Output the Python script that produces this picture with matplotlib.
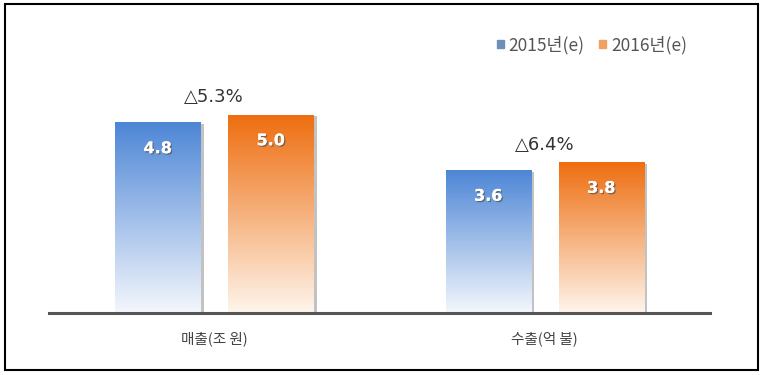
import numpy as np
import matplotlib.pyplot as plt
from matplotlib.colors import LinearSegmentedColormap
from matplotlib.patches import Rectangle
import matplotlib.patheffects as pe

plt.rcParams['font.family'] = ['Noto Sans CJK KR', 'DejaVu Sans']

categories = ['매출(조 원)', '수출(억 불)']
series_names = ['2015년(e)', '2016년(e)']
values_2015 = [4.8, 3.6]
values_2016 = [5.0, 3.8]
growth = ['△5.3%', '△6.4%']

top_colors = ['#4D86D6', '#EE6E10']
bottom_colors = ['#F4F7FC', '#FEF5EC']

fig = plt.figure(figsize=(7.62, 3.75), dpi=100)
ax = fig.add_axes([0.0643, 0.1653, 0.8675, 0.6336])

x = np.arange(len(categories))
width = 0.258
offset = 0.171
grad = np.linspace(1, 0, 256).reshape(-1, 1)

for i, vals in enumerate([values_2015, values_2016]):
    cmap = LinearSegmentedColormap.from_list('g%d' % i, [bottom_colors[i], top_colors[i]])
    pos = x + (i * 2 - 1) * offset
    bars = ax.bar(pos, vals, width, color='none', label=series_names[i])
    for b, v in zip(bars, vals):
        x0 = b.get_x()
        # shadow on the right edge
        ax.add_patch(Rectangle((x0 + 0.006, 0), width + 0.004, v - 0.03,
                               color='#9a9a9a', alpha=0.6, zorder=1, lw=0))
        ax.imshow(grad, extent=(x0, x0 + width, 0, v), aspect='auto',
                  cmap=cmap, zorder=2, interpolation='bicubic')
        ax.text(b.get_x() + width / 2, v - 0.65, '%.1f' % v, ha='center', va='center',
                color='white', fontsize=11.5, fontweight='bold', family='DejaVu Sans',
                zorder=4,
                path_effects=[pe.withSimplePatchShadow(offset=(1, -1), shadow_rgbFace='#555555', alpha=0.7),
                              pe.Normal()])

for i, g in enumerate(growth):
    top = max(values_2015[i], values_2016[i])
    ax.text(x[i], top + 0.45, g, ha='center', va='center', fontsize=13,
            color='#333333', family=['DejaVu Sans'])

ax.set_xlim(-0.5, 1.5)
ax.set_ylim(0, 6)
for s in ['top', 'right', 'left']:
    ax.spines[s].set_visible(False)
ax.spines['bottom'].set_color('#555555')
ax.spines['bottom'].set_linewidth(2.2)
ax.spines['bottom'].set_zorder(5)
ax.set_yticks([])
ax.set_xticks(x)
ax.set_xticklabels(categories, fontsize=10.5, color='#444444')
ax.tick_params(axis='x', length=0, pad=13)

# legend
fig.legend(handles=[Rectangle((0, 0), 1, 1, color=c) for c in ['#6f8fb8', '#f0a060']],
           labels=series_names, loc='center left', bbox_to_anchor=(481 / 762, 1 - 45 / 375),
           ncol=2, frameon=False, fontsize=12.5, handlelength=0.4, handleheight=0.28,
           handletextpad=0.3, columnspacing=0.8, labelcolor='#555555')

fig.add_artist(Rectangle((5 / 762, 5 / 375), 753 / 762, 366 / 375, transform=fig.transFigure,
                         fill=False, edgecolor='black', lw=1.5))

fig.savefig('out.png', dpi=100)
